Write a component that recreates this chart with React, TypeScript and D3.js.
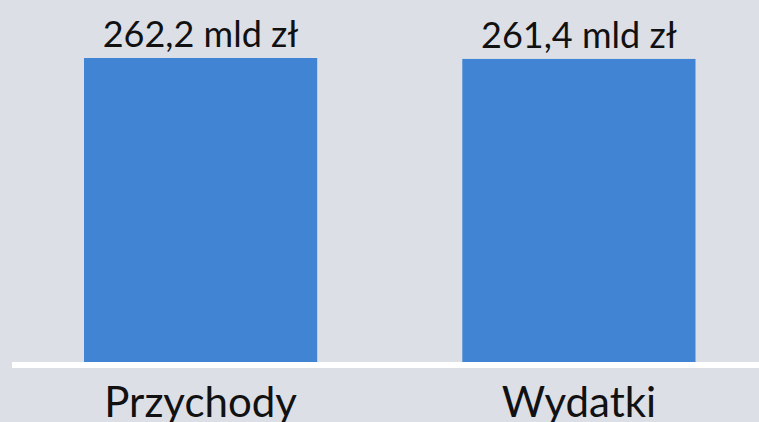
import React from "react";
import * as d3 from "d3";

const categories = ["Przychody", "Wydatki"];
const values = [262.2, 261.4];
const valueLabels = ["262,2 mld zł", "261,4 mld zł"];

const W = 759;
const H = 422;

export default function App() {
  const x = d3.scaleBand<string>().domain(categories).range([84, 695.5]).paddingInner(0.3836).paddingOuter(0);
  const y = d3.scaleLinear().domain([0, 262.2]).range([362, 58]);
  const font = "Lato, 'Open Sans', sans-serif";
  return (
    <svg width={W} height={H} style={{ position: "absolute", left: 0, top: 0, display: "block" }}>
      <rect x={0} y={0} width={W} height={H} fill="#dcdfe6" />
      {categories.map((c, i) => (
        <g key={c}>
          <rect x={x(c)} y={y(values[i])} width={x.bandwidth()} height={y(0) - y(values[i])} fill="#4184d3" />
          <text x={(x(c) as number) + x.bandwidth() / 2} y={y(values[i]) - 11} textAnchor="middle" fontFamily={font} fontSize={36} fill="#111">
            {valueLabels[i]}
          </text>
          <text x={(x(c) as number) + x.bandwidth() / 2} y={417} textAnchor="middle" fontFamily={font} fontSize={42} fill="#111">
            {c}
          </text>
        </g>
      ))}
      <line x1={12} x2={W} y1={y(0) + 3} y2={y(0) + 3} stroke="#ffffff" strokeWidth={6} />
    </svg>
  );
}
